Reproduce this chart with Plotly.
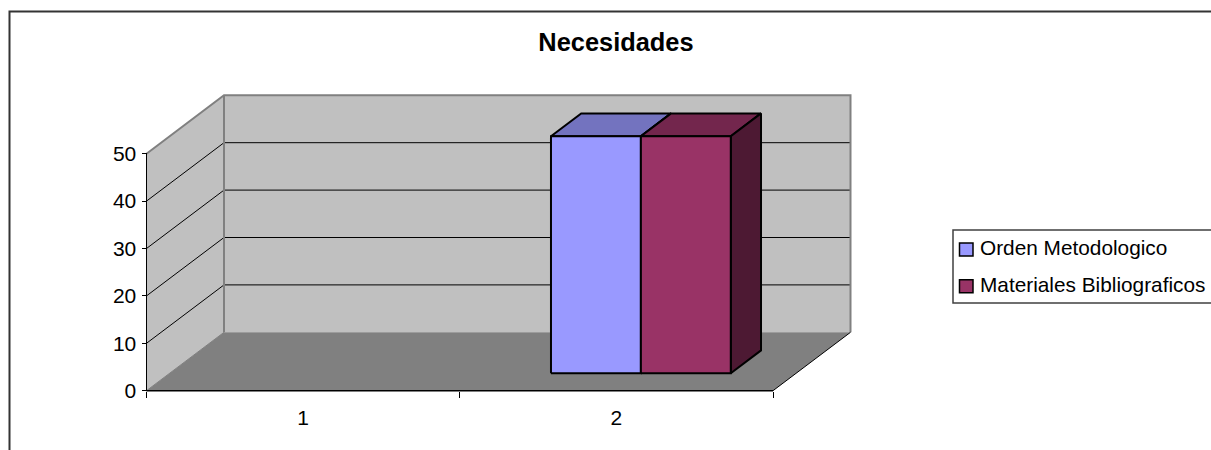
import plotly.graph_objects as go

# ---- data ----
TITLE = "Necesidades"
CATEGORIES = ["1", "2"]
SERIES_NAMES = ["Orden Metodologico", "Materiales Bibliograficos"]
ORDEN_METODOLOGICO = [None, 50]
MATERIALES_BIBLIOGRAFICOS = [None, 50]
Y_TICKS = [0, 10, 20, 30, 40, 50]

# ---- style ----
W, H = 1211, 450
FONT = "Liberation Sans"
TICK_SIZE = 21
FRONT = ["#9999FF", "#993366"]
TOP = ["#7373BF", "#73264D"]
SIDE = ["#4D264D", "#4D1933"]
WALL, FLOOR, EDGE = "#C0C0C0", "#808080", "#808080"
PLOT_L, PLOT_R, PLOT_B, PLOT_T = 146.5, 773.0, 390.7, 153.7
YMAX = max(Y_TICKS)
XMAX = len(CATEGORIES)
UX = (PLOT_R - PLOT_L) / XMAX               # pixels per category
UY = (PLOT_B - PLOT_T) / YMAX               # pixels per value unit
DX = 77.5 / UX                              # oblique depth, x data units
DY = 58.4 / UY                              # oblique depth, y data units
BAR_W, NEAR, FAR, SHIFT = 0.287, 0.30, 0.69, 0.004


def P(x, y, d=0.0):
    return x + d * DX, y + d * DY


fig = go.Figure()


def poly(pts, fill=None, line=None, width=1):
    xs = [p[0] for p in pts]
    ys = [p[1] for p in pts]
    fig.add_trace(go.Scatter(
        x=xs, y=ys, mode="lines", showlegend=False, hoverinfo="skip",
        fill="toself" if fill else None, fillcolor=fill,
        line=dict(color=line or "rgba(0,0,0,0)", width=width if line else 0),
    ))


# walls and floor
poly([P(0, 0), P(0, YMAX), P(0, YMAX, 1), P(0, 0, 1), P(0, 0)], fill=WALL)
poly([P(0, 0, 1), P(0, YMAX, 1), P(XMAX, YMAX, 1), P(XMAX, 0, 1), P(0, 0, 1)], fill=WALL)
poly([P(0, 0), P(0, 0, 1), P(XMAX, 0, 1), P(XMAX, 0), P(0, 0)], fill=FLOOR)

# gridlines
for v in Y_TICKS[1:-1]:
    poly([P(0, v), P(0, v, 1), P(XMAX, v, 1)], line="#000000", width=1)

# wall edges
poly([P(0, YMAX), P(0, YMAX, 1), P(XMAX, YMAX, 1), P(XMAX, 0, 1)], line=EDGE, width=2)
poly([P(0, 0, 1), P(0, YMAX, 1)], line=EDGE, width=2)
poly([P(0, 0), P(0, 0, 1)], line=EDGE, width=1)
poly([P(XMAX, 0), P(XMAX, 0, 1)], line="#000000", width=1)

# axis lines
poly([P(0, 0), P(XMAX, 0)], line="#000000", width=1.5)
poly([P(0, 0), P(0, YMAX)], line="#000000", width=1)

# bars
all_series = [ORDEN_METODOLOGICO, MATERIALES_BIBLIOGRAFICOS]
for s, values in enumerate(all_series):
    for c, v in enumerate(values):
        if v is None:
            continue
        x0 = c + 0.5 + SHIFT + BAR_W * (s - len(all_series) / 2)
        x1 = x0 + BAR_W
        poly([P(x0, v, NEAR), P(x0, v, FAR), P(x1, v, FAR), P(x1, v, NEAR), P(x0, v, NEAR)],
             fill=TOP[s], line="#000000", width=2)
        poly([P(x1, 0, NEAR), P(x1, 0, FAR), P(x1, v, FAR), P(x1, v, NEAR), P(x1, 0, NEAR)],
             fill=SIDE[s], line="#000000", width=2)
        poly([P(x0, 0, NEAR), P(x0, v, NEAR), P(x1, v, NEAR), P(x1, 0, NEAR), P(x0, 0, NEAR)],
             fill=FRONT[s], line="#000000", width=2)

# chart frame and legend (paper coordinates)
shapes = [
    dict(type="rect", xref="paper", yref="paper", x0=9.5 / W, x1=1.02,
         y0=-0.02, y1=1 - 11.5 / H, line=dict(color="#333333", width=2), fillcolor="rgba(0,0,0,0)"),
    dict(type="rect", xref="paper", yref="paper", x0=953 / W, x1=1.02,
         y0=1 - 303 / H, y1=1 - 230 / H, line=dict(color="#404040", width=1.5), fillcolor="#FFFFFF"),
]
annotations = []
for i, name in enumerate(SERIES_NAMES):
    cy = 249.5 + i * 36.8
    shapes.append(dict(type="rect", xref="paper", yref="paper",
                       x0=959.5 / W, x1=973 / W, y0=1 - (cy + 6.5) / H, y1=1 - (cy - 6.5) / H,
                       line=dict(color="#000000", width=1.5), fillcolor=FRONT[i]))
    annotations.append(dict(text=name, xref="paper", yref="paper", x=977.5 / W, y=1 - (cy - 2) / H,
                            xanchor="left", yanchor="middle", showarrow=False,
                            font=dict(family=FONT, size=20.8, color="#000000")))

fig.update_layout(
    width=W, height=H, margin=dict(l=0, r=0, t=0, b=0, pad=0),
    paper_bgcolor="#FFFFFF", plot_bgcolor="rgba(0,0,0,0)",
    showlegend=False, hovermode=False,
    title=dict(text=TITLE, x=616 / W, y=1 - 42 / H, xref="container", yref="container",
               xanchor="center", yanchor="middle",
               font=dict(family=FONT, size=25.4, color="#000000", weight=700)),
    xaxis=dict(domain=[0, 1], range=[-PLOT_L / UX, (W - PLOT_L) / UX],
               anchor="free", position=1 - PLOT_B / H,
               showgrid=False, zeroline=False, showline=False,
               tickmode="array", tickvals=[i + 0.5 for i in range(XMAX)], ticktext=CATEGORIES,
               ticks="", ticklabelstandoff=12,
               tickfont=dict(family=FONT, size=TICK_SIZE, color="#000000"),
               minor=dict(tickmode="array", tickvals=list(range(XMAX + 1)), ticks="outside",
                          ticklen=6, tickwidth=1, tickcolor="#000000", showgrid=False)),
    yaxis=dict(domain=[0, 1], range=[-(H - PLOT_B) / UY, PLOT_B / UY],
               anchor="free", position=PLOT_L / W,
               showgrid=False, zeroline=False, showline=False,
               tickmode="array", tickvals=Y_TICKS, ticks="outside", ticklen=5, tickwidth=1,
               tickcolor="#000000", ticklabelstandoff=1,
               tickfont=dict(family=FONT, size=TICK_SIZE, color="#000000")),
    shapes=shapes, annotations=annotations,
)

fig.write_html("out.html", config={"displayModeBar": False, "responsive": False},
               post_script="document.body.style.margin='0';document.body.style.overflow='hidden';")
